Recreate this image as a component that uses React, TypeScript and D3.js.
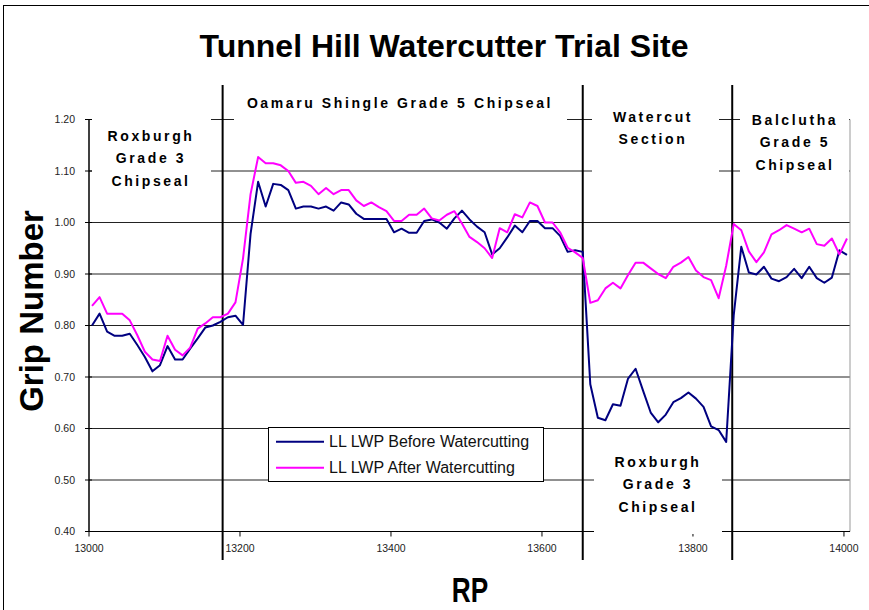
import React from "react";
import * as d3 from "d3";

// RP of each survey point
const rp = [
  13004, 13014, 13024, 13034, 13044, 13054, 13064, 13074, 13084, 13094,
  13104, 13114, 13124, 13134, 13144, 13154, 13164, 13174, 13184, 13194,
  13204, 13214, 13224, 13234, 13244, 13254, 13264, 13274, 13284, 13294,
  13304, 13314, 13324, 13334, 13344, 13354, 13364, 13374, 13384, 13394,
  13404, 13414, 13424, 13434, 13444, 13454, 13464, 13474, 13484, 13494,
  13504, 13514, 13524, 13534, 13544, 13554, 13564, 13574, 13584, 13594,
  13604, 13614, 13624, 13634, 13644, 13654, 13664, 13674, 13684, 13694,
  13704, 13714, 13724, 13734, 13744, 13754, 13764, 13774, 13784, 13794,
  13804, 13814, 13824, 13834, 13844, 13854, 13864, 13874, 13884, 13894,
  13904, 13914, 13924, 13934, 13944, 13954, 13964, 13974, 13984, 13994,
  14004,
];

// LL LWP Before Watercutting
const beforeWC = [
  0.800, 0.823, 0.788, 0.780, 0.780, 0.784, 0.762, 0.739, 0.711, 0.723,
  0.760, 0.734, 0.734, 0.755, 0.775, 0.796, 0.800, 0.807, 0.816, 0.819,
  0.801, 0.978, 1.079, 1.031, 1.075, 1.073, 1.063, 1.027, 1.031, 1.031,
  1.027, 1.031, 1.023, 1.039, 1.035, 1.017, 1.007, 1.007, 1.007, 1.007,
  0.981, 0.988, 0.980, 0.980, 1.003, 1.006, 1.000, 0.988, 1.008, 1.023,
  1.006, 0.992, 0.981, 0.938, 0.950, 0.971, 0.994, 0.981, 1.003, 1.003,
  0.989, 0.989, 0.974, 0.943, 0.946, 0.943, 0.686, 0.621, 0.616, 0.647,
  0.644, 0.697, 0.716, 0.673, 0.631, 0.612, 0.627, 0.651, 0.659, 0.670,
  0.658, 0.642, 0.604, 0.597, 0.574, 0.820, 0.953, 0.903, 0.899, 0.914,
  0.891, 0.886, 0.894, 0.910, 0.892, 0.914, 0.892, 0.883, 0.893, 0.946,
  0.937,
];

// LL LWP After Watercutting
const afterWC = [
  0.838, 0.855, 0.823, 0.823, 0.823, 0.810, 0.781, 0.749, 0.734, 0.731,
  0.780, 0.753, 0.742, 0.757, 0.794, 0.804, 0.816, 0.816, 0.823, 0.845,
  0.930, 1.055, 1.127, 1.115, 1.115, 1.111, 1.100, 1.077, 1.079, 1.071,
  1.055, 1.067, 1.055, 1.063, 1.063, 1.043, 1.032, 1.039, 1.030, 1.022,
  1.003, 1.003, 1.015, 1.015, 1.027, 1.008, 1.004, 1.015, 1.022, 0.998,
  0.972, 0.962, 0.950, 0.931, 0.989, 0.981, 1.016, 1.010, 1.039, 1.032,
  1.000, 1.000, 0.981, 0.951, 0.942, 0.931, 0.844, 0.849, 0.872, 0.883,
  0.872, 0.898, 0.922, 0.922, 0.911, 0.900, 0.892, 0.914, 0.922, 0.933,
  0.907, 0.894, 0.888, 0.853, 0.916, 0.997, 0.985, 0.944, 0.923, 0.942,
  0.977, 0.985, 0.995, 0.988, 0.981, 0.988, 0.958, 0.955, 0.969, 0.938,
  0.969,
];

const yTicks = [0.4, 0.5, 0.6, 0.7, 0.8, 0.9, 1.0, 1.1, 1.2];
const xTicks = [13000, 13200, 13400, 13600, 13800, 14000];
const sectionBreaks = [13177, 13654, 13852];

const series = [
  { name: "LL LWP Before Watercutting", values: beforeWC, color: "#000080" },
  { name: "LL LWP After Watercutting", values: afterWC, color: "#FF00FF" },
];

const FONT = "'Liberation Sans', Arial, sans-serif";

export default function App() {
  const left = 89, right = 850, top = 119.5, bottom = 531.5;

  const x = d3.scaleLinear().domain([13000, 14008]).range([left, right]);
  const y = d3.scaleLinear().domain([0.4, 1.2]).range([bottom, top]);
  const fmt = d3.format(".2f");

  const line = (vals: number[]) =>
    d3
      .line<number>()
      .x((_, i) => x(rp[i]))
      .y((d) => y(d))(vals) || "";

  // white label boxes drawn over the grid
  const boxes = [
    { x0: 92, x1: 211, y0: 108, y1: 194 },
    { x0: 234, x1: 567, y0: 88, y1: 128 },
    { x0: 592, x1: 719, y0: 100, y1: 182 },
    { x0: 740, x1: 849, y0: 104, y1: 198 },
    { x0: 594, x1: 722, y0: 447, y1: 534 },
  ];

  const labels = [
    { cx: 151, base: 141, lines: ["Roxburgh", "Grade 3", "Chipseal"] },
    { cx: 400, base: 108, lines: ["Oamaru Shingle Grade 5 Chipseal"] },
    { cx: 653, base: 121.5, lines: ["Watercut", "Section"] },
    { cx: 795, base: 125, lines: ["Balclutha", "Grade 5", "Chipseal"] },
    { cx: 658, base: 467, lines: ["Roxburgh", "Grade 3", "Chipseal"] },
  ];

  return (
    <svg
      width={869}
      height={610}
      style={{ position: "absolute", left: 0, top: 0, background: "#fff" }}
      fontFamily={FONT}
    >
      {/* chart area border */}
      <rect x={3.5} y={5.5} width={900} height={700} fill="#fff" stroke="#000" strokeWidth={1} />

      <text x={444} y={57} textAnchor="middle" fontSize={32} fontWeight="bold">
        Tunnel Hill Watercutter Trial Site
      </text>

      {/* grid */}
      {yTicks.slice(1).map((t) => (
        <line key={t} x1={left} x2={right} y1={y(t)} y2={y(t)} stroke="#222" strokeWidth={1} />
      ))}
      <line x1={right} x2={right} y1={top} y2={bottom} stroke="#999" strokeWidth={1} />

      {/* axes */}
      <line x1={left} x2={left} y1={top} y2={bottom} stroke="#000" strokeWidth={1.5} />
      <line x1={left} x2={right} y1={bottom} y2={bottom} stroke="#000" strokeWidth={1.2} />
      {yTicks.map((t) => (
        <g key={t}>
          <line x1={left - 4} x2={left + 3} y1={y(t)} y2={y(t)} stroke="#000" />
          <text x={75} y={y(t) + 3.7} textAnchor="end" fontSize={10.5} fill="#222">
            {fmt(t)}
          </text>
        </g>
      ))}
      {xTicks.map((t) => (
        <g key={t}>
          <line x1={x(t)} x2={x(t)} y1={bottom} y2={bottom + 5} stroke="#000" />
          <text x={x(t)} y={552} textAnchor="middle" fontSize={10.5} fill="#222">
            {t}
          </text>
        </g>
      ))}

      {boxes.map((b, i) => (
        <rect key={i} x={b.x0} y={b.y0} width={b.x1 - b.x0} height={b.y1 - b.y0} fill="#fff" />
      ))}

      {/* section boundaries */}
      {sectionBreaks.map((s) => (
        <line key={s} x1={x(s)} x2={x(s)} y1={85} y2={560} stroke="#000" strokeWidth={2} />
      ))}

      {series.map((s) => (
        <path key={s.name} d={line(s.values)} fill="none" stroke={s.color} strokeWidth={2} strokeLinejoin="round" />
      ))}

      {labels.map((l, i) => (
        <text key={i} textAnchor="middle" fontSize={14} fontWeight="bold" style={{ letterSpacing: "2.6px" }}>
          {l.lines.map((t, j) => (
            <tspan key={j} x={l.cx} y={l.base + j * 22.3}>
              {t}
            </tspan>
          ))}
        </text>
      ))}

      {/* legend */}
      <rect x={268.5} y={427.5} width={275} height={54} fill="#fff" stroke="#000" strokeWidth={1} />
      {series.map((s, i) => (
        <g key={s.name}>
          <line x1={276} x2={324} y1={441.7 + i * 26} y2={441.7 + i * 26} stroke={s.color} strokeWidth={2} />
          <text x={329} y={447 + i * 26} fontSize={16} fill="#111">
            {s.name}
          </text>
        </g>
      ))}

      <text
        transform="translate(43,311) rotate(-90)"
        textAnchor="middle"
        fontSize={33}
        fontWeight="bold"
      >
        Grip Number
      </text>
      <text transform="translate(470,602) scale(0.75,1)" textAnchor="middle" fontSize={35} fontWeight="bold">
        RP
      </text>
    </svg>
  );
}
